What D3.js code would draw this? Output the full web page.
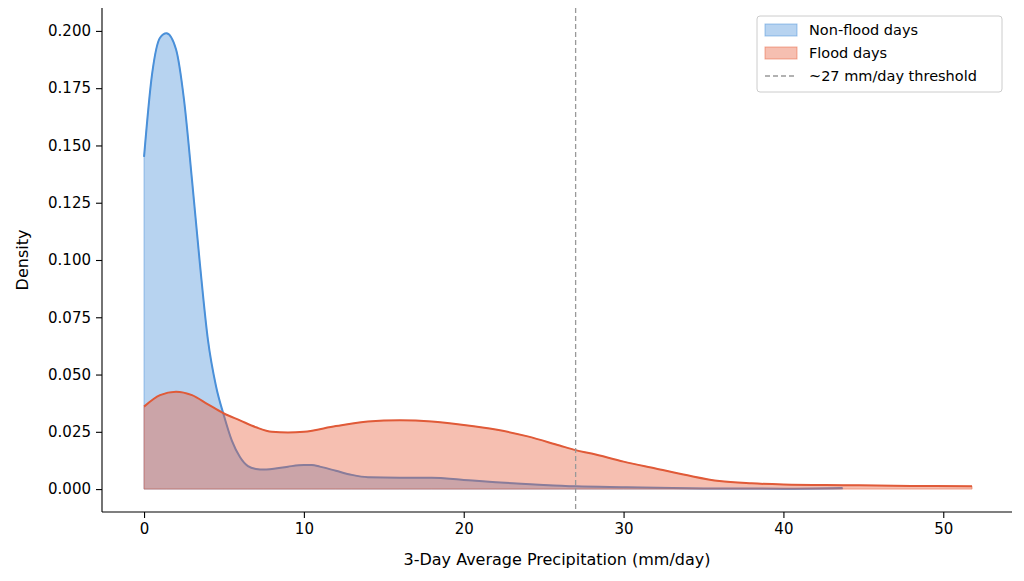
<!DOCTYPE html>
<html><head><meta charset="utf-8">
<script src="https://cdn.jsdelivr.net/npm/d3@7"></script>
<style>body{margin:0;background:#fff}text{font-family:"DejaVu Sans",sans-serif}</style>
</head><body>
<svg id="c" width="1024" height="581"></svg>
<script>
// density curves
var nonFloodX = [0,0.5,1,1.4,2,2.5,3,3.5,4,4.5,5,5.5,6,6.5,7,7.5,8,9,10,10.5,11,12,13,14,16,18,20,22,25,27,30,35,40,43.7];
var nonFloodY = [0.145,0.181,0.197,0.199,0.192,0.170,0.135,0.098,0.065,0.045,0.032,0.021,0.014,0.010,0.0088,0.0085,0.0088,0.0098,0.0105,0.0105,0.0098,0.008,0.0062,0.0052,0.005,0.005,0.004,0.003,0.0018,0.0012,0.0008,0.0003,0.0002,0.0005];
var floodX = [0,1,2,3,4,5,6,7,8,9,10,12,14,16,18,20,22,24,26,27,28,30,32,34,36,38,40,44,48,51.8];
var floodY = [0.036,0.041,0.0425,0.041,0.037,0.033,0.030,0.027,0.025,0.0247,0.025,0.0275,0.0295,0.030,0.0295,0.028,0.026,0.023,0.019,0.017,0.0155,0.012,0.009,0.006,0.0035,0.0025,0.002,0.0017,0.0014,0.0012];
var threshold = 27;
var xTicks = [0,10,20,30,40,50];
var yTicks = [0,0.025,0.05,0.075,0.1,0.125,0.15,0.175,0.2];

var svg = d3.select("#c");
var L = 102, R = 1012, T = 8, B = 512;
var x = d3.scaleLinear().domain([-2.63, 54.3]).range([L, R]);
var y = d3.scaleLinear().domain([-0.01, 0.21]).range([B, T]);

function series(xs, ys, stroke, fill) {
  var pts = xs.map(function(d, i) { return [d, ys[i]]; });
  var area = d3.area().x(function(d){return x(d[0]);}).y0(y(0)).y1(function(d){return y(d[1]);}).curve(d3.curveMonotoneX);
  var line = d3.line().x(function(d){return x(d[0]);}).y(function(d){return y(d[1]);}).curve(d3.curveMonotoneX);
  svg.append("path").attr("d", area(pts)).attr("fill", fill).attr("fill-opacity", 0.4).attr("stroke", fill).attr("stroke-opacity", 0.5);
  svg.append("path").attr("d", line(pts)).attr("fill", "none").attr("stroke", stroke).attr("stroke-width", 2);
}
series(nonFloodX, nonFloodY, "#4a90d9", "#4a90d9");
series(floodX, floodY, "#e05a38", "#e8603c");

svg.append("line").attr("x1", x(threshold)).attr("x2", x(threshold)).attr("y1", T).attr("y2", B)
  .attr("stroke", "#999").attr("stroke-width", 1.3).attr("stroke-dasharray", "5,3");

var xa = svg.append("g").attr("transform", "translate(0," + B + ")")
  .call(d3.axisBottom(x).tickValues(xTicks).tickSizeOuter(0).tickPadding(5));
var ya = svg.append("g").attr("transform", "translate(" + L + ",0)")
  .call(d3.axisLeft(y).tickValues(yTicks).tickFormat(d3.format(".3f")).tickSizeOuter(0).tickPadding(5));
[xa, ya].forEach(function(a) {
  a.selectAll("text").attr("font-size", 15).attr("fill", "#000");
  a.selectAll("line,path").attr("stroke", "#000").attr("stroke-width", 1.1);
  a.select(".domain").attr("d", a === xa ? "M" + L + ",0H" + R : "M0," + T + "V" + B);
});
svg.append("text").attr("x", (L + R) / 2).attr("y", 565).attr("text-anchor", "middle").attr("font-size", 16).text("3-Day Average Precipitation (mm/day)");
svg.append("text").attr("transform", "translate(28," + (T + B) / 2 + ") rotate(-90)").attr("text-anchor", "middle").attr("font-size", 16).text("Density");

// legend
var lg = svg.append("g").attr("transform", "translate(757,16)");
lg.append("rect").attr("width", 245).attr("height", 76).attr("rx", 3).attr("fill", "#fff").attr("fill-opacity", 0.85).attr("stroke", "#ccc");
var items = [["Non-flood days", "#4a90d9"], ["Flood days", "#e8603c"], ["~27 mm/day threshold", null]];
items.forEach(function(it, i) {
  var g = lg.append("g").attr("transform", "translate(8," + (14 + i * 23) + ")");
  if (it[1]) g.append("rect").attr("x", 0).attr("y", -6).attr("width", 32).attr("height", 12).attr("fill", it[1]).attr("fill-opacity", 0.4).attr("stroke", it[1]).attr("stroke-opacity", 0.5);
  else g.append("line").attr("x1", 0).attr("x2", 32).attr("stroke", "#999").attr("stroke-width", 1.3).attr("stroke-dasharray", "5,3");
  g.append("text").attr("x", 44).attr("y", 5).attr("font-size", 14.5).text(it[0]);
});
</script>
</body></html>
